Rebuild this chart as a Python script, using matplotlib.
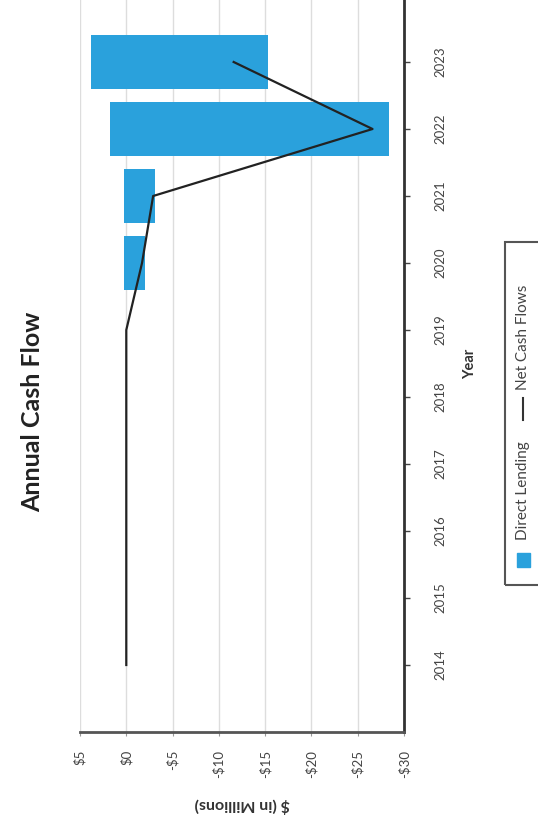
import matplotlib
matplotlib.use("Agg")
import matplotlib.pyplot as plt
from matplotlib.patches import Rectangle
from matplotlib.lines import Line2D

plt.rcParams['font.family'] = ['Lato', 'DejaVu Sans']

# data (in $ millions)
years = [2014, 2015, 2016, 2017, 2018, 2019, 2020, 2021, 2022, 2023]
lending_pos = [0, 0, 0, 0, 0, 0, 0.2, 0.3, 1.8, 3.8]       # distributions
lending_neg = [0, 0, 0, 0, 0, 0, -2.0, -3.1, -28.4, -15.3]  # contributions
net_flow = [0, 0, 0, 0, 0, 0, -1.7, -2.9, -26.6, -11.6]
value_ticks = [5, 0, -5, -10, -15, -20, -25, -30]
value_labels = ['$5', '$0', '-$5', '-$10', '-$15', '-$20', '-$25', '-$30']

blue = '#2aa1dc'
W, H = 538, 831
fig = plt.figure(figsize=(W / 100, H / 100), dpi=100)
ax = fig.add_axes([80 / W, 99 / H, 324 / W, 737 / H])

ax.barh(years, lending_pos, height=0.8, color=blue, zorder=2)
ax.barh(years, lending_neg, height=0.8, color=blue, zorder=2)
ax.plot(net_flow, years, color='#222222', lw=1.6, zorder=3)

ax.set_xlim(5, -30)
ax.set_ylim(2013, 2024)
ax.set_xticks(value_ticks)
ax.set_xticklabels(value_labels, rotation=90, fontsize=9.5, color='#444444')
ax.set_yticks(years)
ax.set_yticklabels([str(y) for y in years], rotation=90, fontsize=9.5,
                   color='#444444', va='center')
ax.yaxis.tick_right()
ax.yaxis.set_label_position('right')
ax.tick_params(axis='y', length=4, width=1, color='#444444', pad=18)
ax.tick_params(axis='x', length=3, width=0.8, color='#999999', pad=10)
ax.grid(axis='x', color='#dddddd', lw=1, zorder=0)
ax.set_axisbelow(True)

for s in ['top', 'left']:
    ax.spines[s].set_visible(False)
ax.spines['bottom'].set_color('#555555')
ax.spines['bottom'].set_linewidth(2)
ax.spines['right'].set_color('#333333')
ax.spines['right'].set_linewidth(2)

ax.set_xlabel('$ (in Millions)', rotation=180, fontsize=11.5, fontweight='bold',
              color='#333333', labelpad=14)
ax.set_ylabel('Year', rotation=90, fontsize=10.5, fontweight='bold',
              color='#333333', labelpad=12)

fig.text(33 / W, 1 - 412 / H, 'Annual Cash Flow', rotation=90, fontsize=18,
         fontweight='bold', color='#222222', ha='center', va='center')

# legend, drawn rotated like the rest of the picture
fig.patches.append(Rectangle((505 / W, 1 - 585 / H), 36 / W, 343 / H,
                             transform=fig.transFigure, fill=False,
                             edgecolor='#555555', lw=1.5))
fig.patches.append(Rectangle((517 / W, 1 - 567 / H), 13 / W, 14 / H,
                             transform=fig.transFigure, color=blue))
fig.text(523 / W, 1 - 540 / H, 'Direct Lending', rotation=90, fontsize=11,
         color='#444444', ha='center', va='bottom')
fig.lines.append(Line2D([523 / W, 523 / W], [1 - 420 / H, 1 - 398 / H],
                        transform=fig.transFigure, color='#333333', lw=1.5))
fig.text(523 / W, 1 - 390 / H, 'Net Cash Flows', rotation=90, fontsize=11,
         color='#444444', ha='center', va='bottom')

fig.savefig('out.png', dpi=100)
